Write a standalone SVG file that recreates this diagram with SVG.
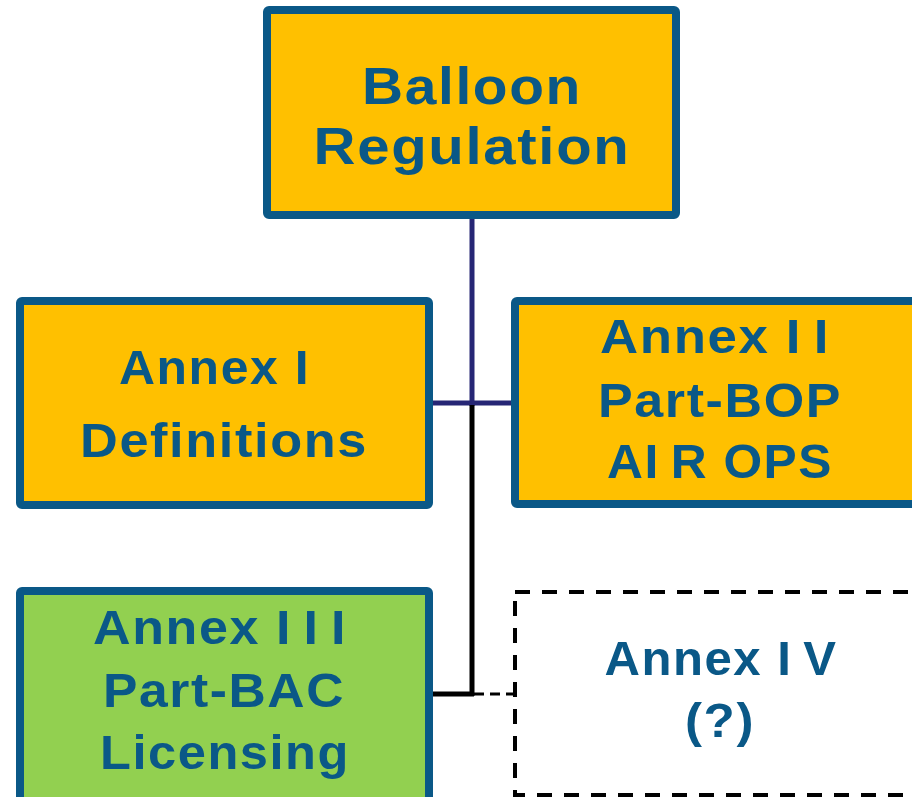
<svg xmlns="http://www.w3.org/2000/svg" width="912" height="797" viewBox="0 0 912 797">
<style>
.box{stroke:#0A5887;stroke-width:8;stroke-linejoin:round}
.y{fill:#FFC000}
.g{fill:#92D050}
.t{font-family:"Liberation Sans",Arial,sans-serif;font-weight:bold;fill:#0A5887;text-anchor:middle;font-size:48px;letter-spacing:1.5px}
.big{font-size:52px}
.nav{stroke:#262675;stroke-width:5;fill:none}
.blk{stroke:#000;stroke-width:5;fill:none}
</style>
<rect width="912" height="797" fill="#fff"/>
<g id="connectors">
<line class="nav" x1="472" y1="218" x2="472" y2="406"/>
<line class="nav" x1="432" y1="403" x2="513" y2="403"/>
<line class="blk" x1="472" y1="405" x2="472" y2="696"/>
<line class="blk" x1="432" y1="694" x2="474" y2="694"/>
<line x1="474" y1="694" x2="513" y2="694" stroke="#000" stroke-width="3" stroke-dasharray="10 6"/>
</g>
<g id="balloon-regulation">
<rect class="box y" x="267" y="10" width="409" height="205" rx="2"/>
<text class="t big" x="472" y="104" textLength="220" lengthAdjust="spacingAndGlyphs">Balloon</text>
<text class="t big" x="472" y="164" textLength="317" lengthAdjust="spacingAndGlyphs">Regulation</text>
</g>
<g id="annex-1">
<rect class="box y" x="20" y="301" width="409" height="204" rx="2"/>
<text class="t" x="220" y="384" textLength="202" lengthAdjust="spacingAndGlyphs">Annex <tspan letter-spacing="12">I</tspan></text>
<text class="t" x="224" y="457" textLength="288" lengthAdjust="spacingAndGlyphs">Definitions</text>
</g>
<g id="annex-2">
<rect class="box y" x="515" y="301" width="430" height="203" rx="2"/>
<text class="t" x="715" y="353" textLength="230" lengthAdjust="spacingAndGlyphs">Annex <tspan letter-spacing="12">I</tspan>I</text>
<text class="t" x="720" y="417" textLength="244" lengthAdjust="spacingAndGlyphs">Part-BOP</text>
<text class="t" x="720" y="478" textLength="226" lengthAdjust="spacingAndGlyphs">A<tspan letter-spacing="12">I</tspan>R OPS</text>
</g>
<g id="annex-3">
<rect class="box g" x="20" y="591" width="409" height="230" rx="2"/>
<text class="t" x="220" y="644" textLength="254" lengthAdjust="spacingAndGlyphs">Annex <tspan letter-spacing="12">II</tspan>I</text>
<text class="t" x="224" y="707" textLength="242" lengthAdjust="spacingAndGlyphs">Part-BAC</text>
<text class="t" x="225" y="769" textLength="250" lengthAdjust="spacingAndGlyphs">Licensing</text>
</g>
<g id="annex-4">
<rect x="515" y="592" width="430" height="203" fill="#fff" stroke="#000" stroke-width="4" stroke-dasharray="15 12"/>
<text class="t" x="721" y="675" textLength="233" lengthAdjust="spacingAndGlyphs">Annex <tspan letter-spacing="12">I</tspan>V</text>
<text class="t" x="720" y="737" textLength="70" lengthAdjust="spacingAndGlyphs">(?)</text>
</g>
</svg>
